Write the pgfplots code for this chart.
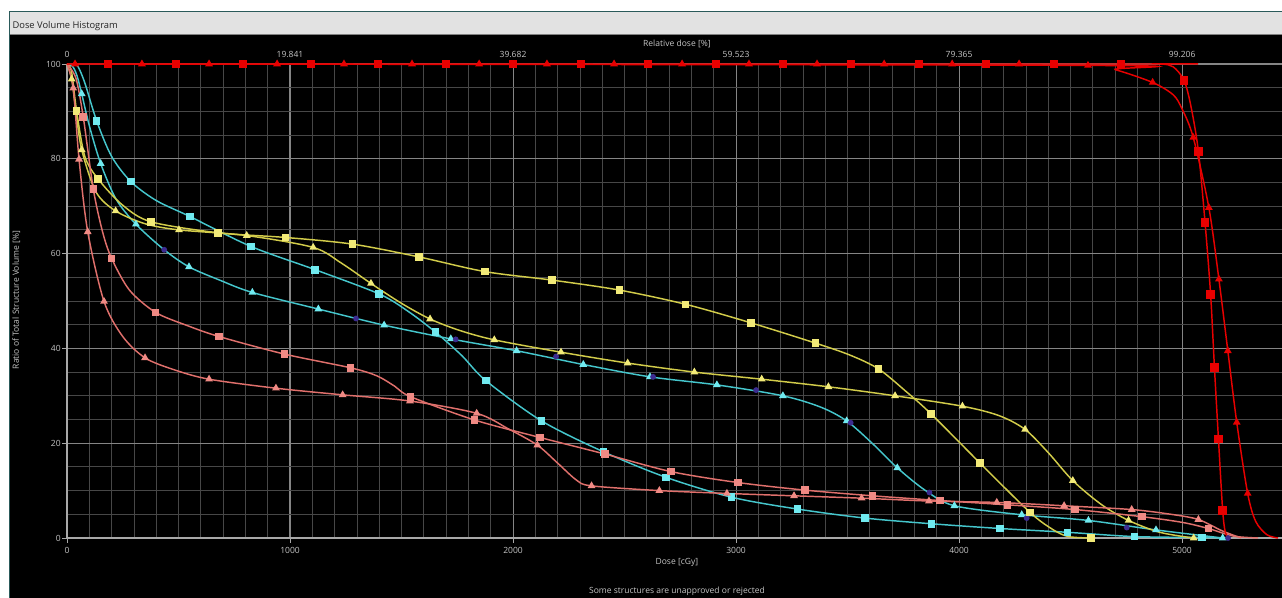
\documentclass[border=0pt]{standalone}
\usepackage{fontspec}
\setmainfont{Open Sans}
\usepackage{pgfplots}
\pgfplotsset{compat=1.18}
\definecolor{cred}{HTML}{E80000}
\definecolor{ccyan}{HTML}{45C6CC}
\definecolor{ccyanm}{HTML}{70EAF0}
\definecolor{cyel}{HTML}{D2CC4A}
\definecolor{cyelm}{HTML}{F2EA78}
\definecolor{cpink}{HTML}{E0706C}
\definecolor{cpinkm}{HTML}{F08A84}
\definecolor{cpurp}{HTML}{3C2C90}
\definecolor{txt}{HTML}{C4C4C4}
\definecolor{gminor}{HTML}{474747}
\definecolor{gmajor}{HTML}{858585}
\definecolor{axgray}{HTML}{A8A8A8}
\definecolor{titlebar}{HTML}{E2E2E2}
\definecolor{frame}{HTML}{2A5A5A}
\newcommand{\sm}{\fontsize{6.4}{7.5}\selectfont}
\begin{document}
\begin{tikzpicture}
\useasboundingbox (0,0) rectangle (961.5pt,448.5pt);
\begin{scope}[x=0.75pt,y=0.75pt]
\fill[white] (0,0) rectangle (1282,598);
\fill[black] (10,0) rectangle (1282,564);
\fill[titlebar] (10,564) rectangle (1282,586);
\draw[gray,line width=0.6pt] (10,564) -- (1282,564);
\draw[frame,line width=1pt] (9.5,0) -- (9.5,586.5) -- (1282,586.5);
\node[anchor=west, font=\fontsize{7}{8}\selectfont, text=black!85, inner sep=1pt] at (11,571.5) {Dose Volume Histogram};
\node[font=\sm, text=txt] at (677,7) {Some structures are unapproved or rejected};
\end{scope}

\begin{axis}[at={(50.25pt,45pt)}, anchor=south west, scale only axis,
  width=911.25pt, height=355.5pt,
  xmin=0, xmax=5448, ymin=0, ymax=100, clip=false,
  hide y axis, axis x line*=top, axis line style={draw=none},
  major tick length=0pt,
  xtick={0,1000,2000,3000,4000,5000},
  xticklabels={0,19.841,39.682,59.523,79.365,99.206},
  xticklabel style={font=\sm, text=txt, anchor=center, yshift=7pt},
  xlabel={Relative dose [\%]},
  xlabel style={at={(axis description cs:0.502,1)}, anchor=center, yshift=15pt, font=\sm, text=txt}]
\end{axis}

\begin{axis}[at={(50.25pt,45pt)}, anchor=south west, scale only axis,
  width=911.25pt, height=355.5pt,
  xmin=0, xmax=5448, ymin=0, ymax=100, clip=false,
  axis x line*=bottom, axis y line*=left,
  axis line style={draw=axgray, line width=0.9pt, -},
  xtick={0,1000,2000,3000,4000,5000}, ytick={0,20,40,60,80,100},
  minor x tick num=9, minor y tick num=3,
  grid=both,
  major grid style={draw=gmajor, line width=0.8pt},
  minor grid style={draw=gminor, line width=0.6pt},
  tick align=outside, major tick length=3.5pt, minor tick length=0pt,
  tick style={draw=axgray, line width=0.6pt},
  /pgf/number format/assume math mode=true, /pgf/number format/1000 sep={},
  ticklabel style={font=\sm, text=txt},
  xticklabel style={anchor=center, yshift=-6pt},
  yticklabel style={anchor=east, inner sep=0pt, xshift=-1pt},
  xlabel={Dose [cGy]},
  xlabel style={at={(axis description cs:0.502,0)}, anchor=center, yshift=-18pt, font=\sm, text=txt},
  ylabel={Ratio of Total Structure Volume [\%]},
  ylabel style={at={([xshift=-38pt]axis description cs:0,0.502)}, anchor=center, font=\sm, text=txt},
  every axis plot/.append style={line width=1.1pt},
  smooth, tension=0.5]

% cyan square
\addplot[ccyan, no marks] coordinates {(0,100)(30,99.9)(49,99.5)(80,96)(133,88)(200,80.5)(286,75.2)(400,71.2)(552,67.8)(825,61.5)(1113,56.6)(1399,51.5)(1530,47.8)(1653,43.4)(1770,38.5)(1878,33.2)(2128,24.7)(2405,18.2)(2686,12.8)(2980,8.6)(3276,6.1)(3578,4.2)(3877,3.0)(4184,2.0)(4486,1.2)(4786,0.3)(5088,0.1)(5200,0)};
\addplot[only marks, mark=square*, mark size=2.3pt, ccyanm] coordinates {(133,88)(286,75.2)(552,67.8)(825,61.5)(1113,56.6)(1399,51.5)(1653,43.4)(1878,33.2)(2128,24.7)(2405,18.2)(2686,12.8)(2980,8.6)(3276,6.1)(3578,4.2)(3877,3.0)(4184,2.0)(4486,1.2)(4786,0.3)(5088,0.1)};

% cyan triangle
\addplot[ccyan, no marks] coordinates {(0,100)(25,99.5)(45,97.5)(66,93.7)(100,87)(151,79.0)(220,71.5)(309,66.2)(436,60.8)(547,57.2)(690,54.3)(831,51.8)(1127,48.3)(1422,44.9)(1721,42.0)(2016,39.5)(2315,36.6)(2614,34.0)(2914,32.3)(3210,30.0)(3380,27.6)(3496,24.7)(3610,20)(3723,14.8)(3850,10)(3979,6.8)(4281,4.9)(4580,3.7)(4883,1.7)(5182,0)};
\addplot[only marks, mark=triangle*, mark size=2.3pt, ccyanm] coordinates {(66,93.7)(151,79.0)(309,66.2)(547,57.2)(831,51.8)(1127,48.3)(1422,44.9)(1721,42.0)(2016,39.5)(2315,36.6)(2614,34.0)(2914,32.3)(3210,30.0)(3496,24.7)(3723,14.8)(3979,6.8)(4281,4.9)(4580,3.7)(4883,1.7)(5182,0)};
\addplot[only marks, mark=*, mark size=1.6pt, cpurp] coordinates {(436,60.8)(1296,46.3)(1743,41.9)(2193,38.3)(2628,34.0)(3090,31.2)(3514,24.3)(3867,9.6)(4303,4.2)(4752,2.2)(5206,0)};

% yellow square
\addplot[cyel, no marks] coordinates {(0,100)(20,98.5)(43,90.1)(80,80.5)(140,75.7)(250,70.2)(377,66.7)(676,64.4)(980,63.4)(1280,62.0)(1578,59.3)(1874,56.2)(2176,54.4)(2477,52.3)(2774,49.3)(3066,45.4)(3357,41.1)(3510,38.6)(3638,35.7)(3760,31)(3874,26.2)(4094,15.8)(4318,5.4)(4420,1.8)(4490,0.3)(4591,0)};
\addplot[only marks, mark=square*, mark size=2.3pt, cyelm] coordinates {(43,90.1)(140,75.7)(377,66.7)(676,64.4)(980,63.4)(1280,62.0)(1578,59.3)(1874,56.2)(2176,54.4)(2477,52.3)(2774,49.3)(3066,45.4)(3357,41.1)(3638,35.7)(3874,26.2)(4094,15.8)(4318,5.4)(4591,0)};

% yellow triangle
\addplot[cyel, no marks] coordinates {(0,100)(21,96.8)(40,90)(66,81.9)(130,73)(218,69.0)(350,66.3)(502,65.0)(806,63.8)(1104,61.3)(1230,58)(1363,53.7)(1500,49.5)(1628,46.2)(1760,43.8)(1916,41.8)(2215,39.2)(2514,36.9)(2813,35.0)(3115,33.5)(3414,31.9)(3713,30.0)(4015,27.8)(4180,25.8)(4296,22.9)(4400,18)(4510,12.1)(4640,7)(4760,3.7)(4900,1.2)(5052,0)};
\addplot[only marks, mark=triangle*, mark size=2.3pt, cyelm] coordinates {(21,96.8)(66,81.9)(218,69.0)(502,65.0)(806,63.8)(1104,61.3)(1363,53.7)(1628,46.2)(1916,41.8)(2215,39.2)(2514,36.9)(2813,35.0)(3115,33.5)(3414,31.9)(3713,30.0)(4015,27.8)(4296,22.9)(4510,12.1)(4760,3.7)(5052,0)};

% pink square
\addplot[cpink, no marks] coordinates {(0,100)(40,97)(73,88.8)(118,73.6)(160,64.5)(200,59.0)(280,52.3)(397,47.6)(540,44.8)(682,42.5)(975,38.8)(1272,35.9)(1390,34.2)(1470,32)(1541,29.8)(1827,24.9)(2121,21.2)(2413,17.7)(2709,14.0)(3008,11.7)(3309,10.1)(3612,8.9)(3915,7.9)(4217,7.0)(4520,6.0)(4819,4.5)(5000,3.3)(5118,2.0)(5230,0.4)(5341,0)};
\addplot[only marks, mark=square*, mark size=2.3pt, cpinkm] coordinates {(73,88.8)(118,73.6)(200,59.0)(397,47.6)(682,42.5)(975,38.8)(1272,35.9)(1541,29.8)(1827,24.9)(2121,21.2)(2413,17.7)(2709,14.0)(3008,11.7)(3309,10.1)(3612,8.9)(3915,7.9)(4217,7.0)(4520,6.0)(4819,4.5)(5118,2.0)};

% pink triangle
\addplot[cpink, no marks] coordinates {(0,100)(28,94.9)(54,79.9)(93,64.6)(166,49.9)(250,42.5)(350,38.0)(480,35.5)(637,33.5)(937,31.6)(1236,30.2)(1538,28.9)(1837,26.3)(1980,23.0)(2109,19.6)(2200,15.8)(2285,12.2)(2352,11.0)(2656,10.0)(2959,9.4)(3260,8.9)(3563,8.4)(3865,7.8)(4169,7.5)(4471,6.8)(4774,6.0)(4950,5.0)(5073,3.9)(5180,1.5)(5265,0)};
\addplot[only marks, mark=triangle*, mark size=2.3pt, cpinkm] coordinates {(28,94.9)(54,79.9)(93,64.6)(166,49.9)(350,38.0)(637,33.5)(937,31.6)(1236,30.2)(1538,28.9)(1837,26.3)(2109,19.6)(2352,11.0)(2656,10.0)(2959,9.4)(3260,8.9)(3563,8.4)(3865,7.8)(4169,7.5)(4471,6.8)(4774,6.0)(5073,3.9)};

% red square
\addplot[cred, no marks] coordinates {(0,100)(4726,100)(4900,100)(4960,99.4)(5009,96.5)(5040,91)(5073,81.6)(5103,66.5)(5128,51.3)(5145,36.0)(5163,20.9)(5182,5.8)(5195,1)(5215,0)};
\addplot[only marks, mark=square*, mark size=2.7pt, cred] coordinates {(184,100)(489,100)(789,100)(1094,100)(1395,100)(1700,100)(2000,100)(2305,100)(2605,100)(2910,100)(3211,100)(3516,100)(3821,100)(4121,100)(4426,100)(4726,100)(5009,96.5)(5073,81.6)(5103,66.5)(5128,51.3)(5145,36.0)(5163,20.9)(5182,5.8)};

% red triangle
\addplot[cred, no marks] coordinates {(0,100)(4578,99.7)(4700,98.8)(4868,96.1)(4960,93.5)(5000,90.5)(5050,84.5)(5120,69.7)(5165,54.6)(5205,39.5)(5245,24.4)(5294,9.4)(5330,3.5)(5380,0.7)(5430,0)};
\addplot[only marks, mark=triangle*, mark size=2.3pt, cred] coordinates {(36,100)(336,100)(637,100)(942,100)(1242,100)(1547,100)(1848,100)(2152,100)(2453,100)(2758,100)(3058,100)(3363,100)(3664,100)(3969,100)(4269,100)(4578,99.7)(4868,96.1)(5050,84.5)(5120,69.7)(5165,54.6)(5205,39.5)(5245,24.4)(5294,9.4)};
\end{axis}
\end{tikzpicture}
\end{document}
